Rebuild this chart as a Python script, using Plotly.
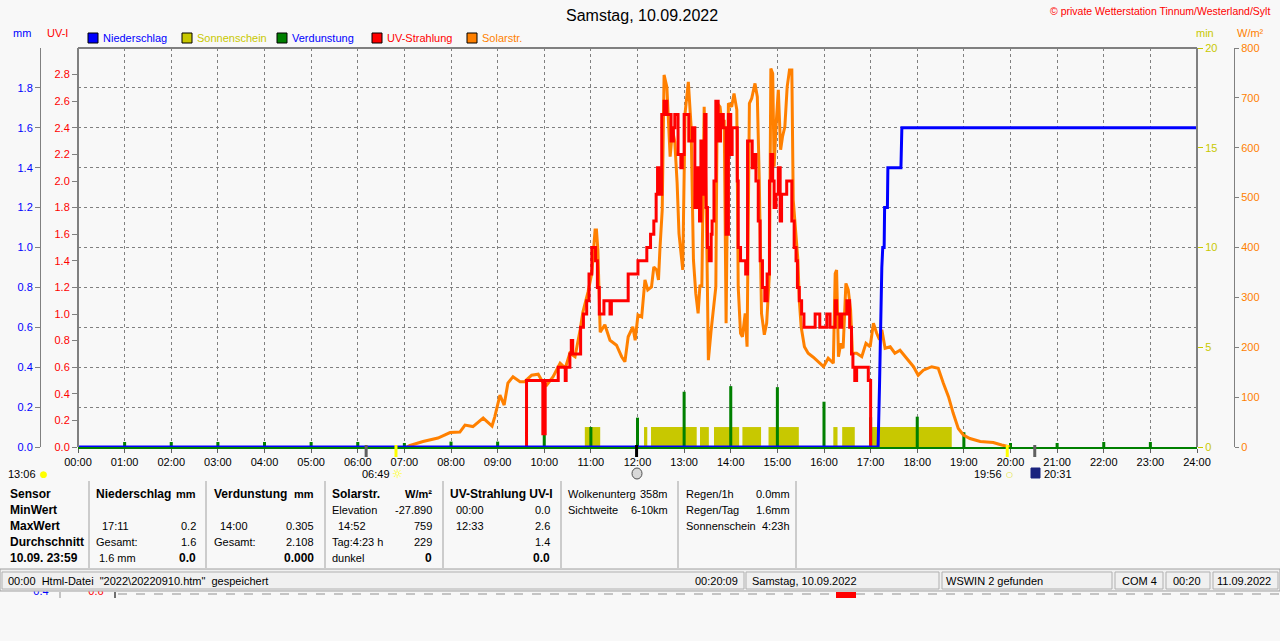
import plotly.graph_objects as go

W, H = 1280, 641
BG = "#f8f8f8"
GRID = "#808080"
FONT = "Liberation Sans, Arial, sans-serif"


def fx(px):
    return px / W


def fy(py):
    return 1 - py / H


# ---------------- data ----------------
hours = list(range(25))
hour_labels = ["%02d:00" % h for h in hours]

mm_ticks = [0.0, 0.2, 0.4, 0.6, 0.8, 1.0, 1.2, 1.4, 1.6, 1.8]
uv_ticks = [0.0, 0.2, 0.4, 0.6, 0.8, 1.0, 1.2, 1.4, 1.6, 1.8, 2.0, 2.2, 2.4, 2.6, 2.8]
min_ticks = [0, 5, 10, 15, 20]
min_grid = [2, 4, 6, 8, 10, 12, 14, 16, 18]
wm2_ticks = [0, 100, 200, 300, 400, 500, 600, 700, 800]

# Sonnenschein (min), intervals
sun_start = [10.87, 12.14, 12.29, 13.34, 13.64, 14.25, 14.81, 16.20, 16.39, 17.02]
sun_end = [11.20, 12.21, 13.27, 13.53, 14.18, 14.65, 15.46, 16.29, 16.66, 18.74]
sun_min = [1.0, 1.0, 1.0, 1.0, 1.0, 1.0, 1.0, 1.0, 1.0, 1.0]

# Verdunstung (mm) per hour
evap_time = [1, 2, 3, 4, 5, 6, 7, 8, 9, 10, 11, 12, 13, 14, 15, 16, 17, 18, 19, 20, 21, 22, 23]
evap_mm = [0.025, 0.025, 0.025, 0.025, 0.025, 0.025, 0.02, 0.027, 0.027, 0.077, 0.10, 0.147,
           0.277, 0.305, 0.30, 0.227, 0.149, 0.152, 0.074, 0.02, 0.02, 0.025, 0.025]

# Niederschlag (mm), cumulative
rain_time = [0.00, 17.16, 17.19, 17.22, 17.24, 17.26, 17.29, 17.30, 17.36, 17.37, 17.65, 17.67, 24.00]
rain_mm = [0.0, 0.0, 0.3, 0.7, 0.9, 1.0, 1.0, 1.2, 1.2, 1.4, 1.4, 1.6, 1.6]

# Solarstrahlung (W/m²)
solar_time = [7.05, 7.12, 7.40, 7.72, 7.98, 8.19, 8.30, 8.47, 8.69, 8.88, 8.94, 9.05, 9.14, 9.22,
              9.33, 9.48, 9.58, 9.73, 9.87, 9.98, 10.05, 10.19, 10.34, 10.45, 10.55, 10.66, 10.77,
              10.83, 10.94, 11.02, 11.09, 11.12, 11.15, 11.20, 11.30, 11.41, 11.55, 11.66, 11.73,
              11.80, 11.90, 11.95, 12.01, 12.09, 12.16, 12.22, 12.30, 12.35, 12.41, 12.45, 12.48,
              12.53, 12.57, 12.63, 12.66, 12.70, 12.75, 12.80, 12.85, 12.89, 12.97, 13.02, 13.09,
              13.15, 13.20, 13.25, 13.30, 13.34, 13.38, 13.43, 13.48, 13.52, 13.58, 13.63, 13.68,
              13.71, 13.77, 13.82, 13.86, 13.90, 13.95, 14.02, 14.07, 14.13, 14.16, 14.21, 14.25,
              14.31, 14.35, 14.40, 14.45, 14.52, 14.57, 14.61, 14.66, 14.72, 14.77, 14.83, 14.86,
              14.90, 14.93, 14.97, 15.02, 15.07, 15.11, 15.16, 15.21, 15.26, 15.31, 15.34, 15.39,
              15.44, 15.47, 15.51, 15.58, 15.66, 15.77, 15.99, 16.09, 16.20, 16.24, 16.27, 16.31,
              16.36, 16.41, 16.47, 16.52, 16.57, 16.61, 16.70, 16.81, 16.90, 16.99, 17.06, 17.13,
              17.19, 17.24, 17.31, 17.42, 17.52, 17.63, 17.77, 17.92, 18.02, 18.13, 18.31, 18.45,
              18.56, 18.67, 18.77, 18.88, 18.99, 19.13, 19.35, 19.63, 19.81, 19.99]
solar_wm2 = [0, 3, 11, 18, 29, 30, 44, 41, 58, 42, 61, 104, 84, 128,
             141, 131, 131, 144, 146, 128, 124, 141, 168, 158, 188, 181, 235,
             271, 311, 349, 435, 435, 395, 230, 245, 214, 204, 181, 171,
             221, 241, 214, 265, 261, 335, 315, 321, 361, 355, 335, 395,
             475, 746, 722, 662, 582, 636, 612, 529, 428, 355, 669, 732,
             642, 375, 308, 268, 325, 321, 682, 455, 174, 235, 281, 321,
             689, 682, 642, 656, 248, 689, 682, 709, 676, 321, 228, 221,
             268, 201, 689, 699, 729, 702, 542, 268, 225, 248, 348, 759,
             749, 562, 642, 716, 596, 622, 642, 722, 756, 756, 495, 442,
             375, 295, 241, 201, 188, 180, 161, 178, 168, 348, 355, 181,
             208, 198, 328, 315, 275, 188, 188, 181, 208, 201, 248, 228,
             215, 235, 198, 201, 188, 194, 178, 161, 144, 154, 161, 158,
             128, 101, 68, 37, 24, 17, 11, 9, 4, 0]

# UV-Strahlung (UV-I)
uv_time = [9.59, 9.62, 9.94, 9.97, 10.02, 10.27, 10.30, 10.43, 10.45, 10.47, 10.53, 10.55, 10.58,
           10.61, 10.75, 10.78, 10.84, 10.91, 10.96, 11.02, 11.06, 11.10, 11.14, 11.18, 11.25,
           11.28, 11.38, 11.41, 11.44, 11.77, 11.80, 11.98, 12.01, 12.16, 12.20, 12.28, 12.35,
           12.40, 12.43, 12.48, 12.52, 12.57, 12.63, 12.68, 12.72, 12.77, 12.80, 12.85, 12.87,
           12.93, 12.96, 13.00, 13.05, 13.10, 13.15, 13.18, 13.23, 13.28, 13.33, 13.36, 13.40,
           13.44, 13.47, 13.50, 13.54, 13.58, 13.60, 13.64, 13.68, 13.73, 13.78, 13.84, 13.90,
           13.95, 14.00, 14.03, 14.09, 14.14, 14.16, 14.21, 14.28, 14.32, 14.36, 14.41, 14.46,
           14.50, 14.54, 14.59, 14.63, 14.68, 14.73, 14.78, 14.83, 14.86, 14.90, 14.93, 14.97,
           15.02, 15.06, 15.09, 15.16, 15.20, 15.27, 15.31, 15.36, 15.40, 15.43, 15.47, 15.52,
           15.57, 15.77, 15.81, 15.88, 15.91, 16.02, 16.06, 16.11, 16.13, 16.20, 16.24, 16.27,
           16.31, 16.34, 16.38, 16.45, 16.49, 16.52, 16.55, 16.59, 16.62, 16.66, 16.70, 16.91,
           16.95, 16.99, 17.00]
uv_index = [0.0, 0.5, 0.5, 0.1, 0.5, 0.5, 0.6, 0.6, 0.5, 0.6, 0.6, 0.7, 0.8,
            0.7, 0.7, 0.9, 1.0, 1.1, 1.3, 1.5, 1.5, 1.4, 1.2, 1.0, 1.0,
            1.1, 1.1, 1.0, 1.1, 1.1, 1.3, 1.3, 1.4, 1.4, 1.5, 1.6, 1.7,
            1.9, 2.1, 1.9, 2.5, 2.6, 2.5, 2.5, 2.3, 2.4, 2.5, 2.5, 2.2,
            2.1, 2.2, 2.5, 2.5, 2.3, 2.3, 2.4, 1.8, 2.1, 1.7, 2.3, 1.9,
            2.5, 1.8, 1.5, 1.4, 1.6, 1.7, 2.0, 2.6, 2.3, 2.5, 2.4, 1.6,
            2.5, 2.2, 2.4, 2.4, 2.0, 1.5, 1.4, 1.4, 1.3, 2.3, 2.3, 2.1,
            2.2, 2.0, 1.7, 1.4, 1.2, 1.1, 1.3, 2.0, 2.2, 2.0, 1.8, 1.9,
            2.1, 1.7, 1.9, 1.9, 2.0, 2.0, 1.7, 1.5, 1.4, 1.2, 1.1, 1.0,
            0.9, 0.9, 1.0, 1.0, 0.9, 0.9, 1.0, 1.0, 0.9, 0.9, 1.1, 1.0,
            1.0, 0.9, 1.0, 1.0, 1.1, 1.1, 0.9, 0.7, 0.6, 0.5, 0.6, 0.6,
            0.5, 0.5, 0.0]

sun_mid = [(a + b) / 2 for a, b in zip(sun_start, sun_end)]
sun_width = [b - a for a, b in zip(sun_start, sun_end)]

# ---------------- figure ----------------
fig = go.Figure()
fig.add_trace(go.Bar(x=sun_mid, y=sun_min, width=sun_width, marker=dict(color="#c8c800", line_width=0),
                     yaxis="y", name="Sonnenschein"))
fig.add_trace(go.Bar(x=evap_time, y=evap_mm, width=0.065, marker=dict(color="#008000", line_width=0),
                     yaxis="y2", name="Verdunstung"))
fig.add_trace(go.Scatter(x=solar_time, y=solar_wm2, mode="lines", line=dict(color="#ff8000", width=3),
                         yaxis="y3", name="Solarstr."))
fig.add_trace(go.Scatter(x=uv_time, y=uv_index, mode="lines", line=dict(color="#ff0000", width=3, shape="hv"),
                         yaxis="y4", name="UV-Strahlung"))
fig.add_trace(go.Scatter(x=rain_time, y=rain_mm, mode="lines", line=dict(color="#0000ff", width=3),
                         yaxis="y5", name="Niederschlag"))

# leftover labels of a second chart peeking out below the status bar (clipped by its own strip)
fig.add_trace(go.Scatter(x=[41, 96], y=[592, 592], mode="text", text=["0.4", "0.6"],
                         textfont=dict(family=FONT, size=11, color=["#0000ff", "#ff0000"]),
                         cliponaxis=True, xaxis="x2", yaxis="y6", hoverinfo="skip"))

tick_font = dict(family=FONT, size=11)
ydom = [fy(447), fy(48)]

fig.update_layout(
    width=W, height=H, margin=dict(l=0, r=0, t=0, b=0, autoexpand=False),
    paper_bgcolor=BG, plot_bgcolor=BG, showlegend=False, barmode="overlay",
    font=dict(family=FONT, size=11, color="black"),
    xaxis=dict(domain=[fx(78), fx(1197)], range=[0, 24], tickvals=hours, ticktext=hour_labels,
               showgrid=True, gridcolor=GRID, griddash="3px,3px", gridwidth=1, zeroline=False,
               showline=True, linecolor="#008000", linewidth=2, ticks="outside", ticklen=4,
               tickcolor="#606060", tickfont=dict(tick_font, color="black"), layer="below traces"),
    yaxis=dict(domain=ydom, range=[0, 20], side="right", anchor="x", tickvals=min_ticks,
               ticks="outside", ticklen=5, tickcolor="#c8c800", showgrid=False, zeroline=False,
               tickfont=dict(tick_font, color="#c8c800"),
               minor=dict(tickvals=min_grid, showgrid=True, gridcolor=GRID, griddash="3px,3px",
                          gridwidth=1, ticks="")),
    yaxis2=dict(overlaying="y", anchor="free", position=fx(40), side="left", range=[0, 2],
                tickvals=mm_ticks, ticktext=["%.1f" % v for v in mm_ticks], showline=True,
                linecolor="#808080", linewidth=1, ticks="outside", ticklen=5, tickcolor="#808080",
                showgrid=False, zeroline=False, tickfont=dict(tick_font, color="#0000ff")),
    yaxis3=dict(overlaying="y", anchor="free", position=fx(1234), side="right", range=[0, 800],
                tickvals=wm2_ticks, showline=True, linecolor="#808080", linewidth=1, ticks="outside",
                ticklen=4, tickcolor="#808080", showgrid=False, zeroline=False,
                tickfont=dict(tick_font, color="#ff8000")),
    yaxis4=dict(overlaying="y", anchor="x", side="left", range=[0, 3], tickvals=uv_ticks,
                ticktext=["%.1f" % v for v in uv_ticks], ticks="outside", ticklen=5,
                tickcolor="#808080", showgrid=False, zeroline=False,
                tickfont=dict(tick_font, color="#ff0000")),
    yaxis5=dict(overlaying="y", range=[0, 2], visible=False),
    xaxis2=dict(domain=[0, 1], range=[0, W], anchor="y6", visible=False),
    yaxis6=dict(domain=[fy(641), fy(591.5)], range=[641, 591.5], anchor="x2", visible=False),
)

shapes = []
ann = []


def text(px, py, s, color="black", size=11, anchor="left", bold=False, family=FONT):
    if bold:
        s = "<b>" + s + "</b>"
    ann.append(dict(x=fx(px), y=fy(py), xref="paper", yref="paper", text=s, showarrow=False,
                    xanchor=anchor, yanchor="middle", font=dict(family=family, size=size, color=color)))


def line(x0, y0, x1, y1, color="#a0a0a0", width=1, dash=None):
    shapes.append(dict(type="line", xref="paper", yref="paper", x0=fx(x0), y0=fy(y0), x1=fx(x1),
                       y1=fy(y1), line=dict(color=color, width=width, dash=dash)))


def rect(x0, y0, x1, y1, fill, color="#a0a0a0", width=1):
    shapes.append(dict(type="rect", xref="paper", yref="paper", x0=fx(x0), y0=fy(y0), x1=fx(x1),
                       y1=fy(y1), fillcolor=fill, line=dict(color=color, width=width), layer="below"))


# plot frame
for seg in [(78, 48, 1197, 48), (78, 48, 78, 447), (1197, 48, 1197, 447)]:
    line(*seg, color="#808080", width=2)

# title and header texts
text(642, 15, "Samstag, 10.09.2022", size=16, anchor="center")
text(1272, 11, "© private Wetterstation Tinnum/Westerland/Sylt", color="#ff0000", size=10.5, anchor="right")
text(22, 33, "mm", color="#0000ff", anchor="center")
text(57, 33, "UV-I", color="#ff0000", anchor="center")
text(1205, 33, "min", color="#c8c800", anchor="center")
text(1250, 33, "W/m²", color="#ff8000", anchor="center")

# legend
legend_items = [("Niederschlag", "#0000ff", "#0000ff", 88), ("Sonnenschein", "#c8c800", "#c8c800", 182),
                ("Verdunstung", "#008000", "#0000ff", 277), ("UV-Strahlung", "#ff0000", "#ff0000", 372),
                ("Solarstr.", "#ff8000", "#ff8000", 467)]
for name, box, col, bx in legend_items:
    shapes.append(dict(type="rect", xref="paper", yref="paper", x0=fx(bx), x1=fx(bx + 10),
                       y0=fy(43), y1=fy(33), fillcolor=box, line=dict(color="black", width=1)))
    text(bx + 13, 38, name, color=col)

# event markers below the time axis
events = [(6.18, "#606060"), (6.82, "#ffff00"), (11.98, "#000000"), (19.93, "#ffff00"), (20.52, "#606060")]
for t, c in events:
    shapes.append(dict(type="line", xref="x", yref="paper", x0=t, x1=t, y0=fy(445), y1=fy(457),
                       line=dict(color=c, width=3)))
text(38, 474, "13:06", anchor="right")
text(44, 474, "●", color="#ffff00", size=9, anchor="center", family="DejaVu Sans")
text(392, 474, "06:49", anchor="right")
text(397, 474, "☼", color="#ffff00", size=12, anchor="center", family="DejaVu Sans")
shapes.append(dict(type="circle", xref="paper", yref="paper", x0=fx(632), x1=fx(642), y0=fy(479), y1=fy(468),
                   fillcolor="#d8d8d8", line=dict(color="#505050", width=1)))
text(1004, 474, "19:56", anchor="right")
text(1009, 474, "○", color="#e0e000", size=8, anchor="center", family="DejaVu Sans")
rect(1031, 468, 1040, 478, "#1a237e", color="#1a237e")
text(1042, 474, "20:31")

# table
rows_y = [494, 510, 526, 542, 558]
for s, y in zip(["Sensor", "MinWert", "MaxWert", "Durchschnitt", "10.09. 23:59"], rows_y):
    text(8, y, s, bold=True, size=12)

cols = [
    (94, 198, ("Niederschlag", "mm"), [None, ("17:11", "0.2", 100), ("Gesamt:", "1.6", 94), ("1.6 mm", "0.0", 97)]),
    (212, 316, ("Verdunstung", "mm"), [None, ("14:00", "0.305", 218), ("Gesamt:", "2.108", 212), ("", "0.000", 212)]),
    (330, 434, ("Solarstr.", "W/m²"), [("Elevation", "-27.890", 330), ("14:52", "759", 336),
                                        ("Tag:4:23 h", "229", 330), ("dunkel", "0", 330)]),
    (448, 552, ("UV-Strahlung UV-I", ""), [("00:00", "0.0", 454), ("12:33", "2.6", 454), ("", "1.4", 448),
                                           ("", "0.0", 448)]),
]
for left, right, head, cells in cols:
    text(left, rows_y[0], head[0], bold=True, size=12)
    if head[1]:
        text(right, rows_y[0], head[1], bold=True, size=11, anchor="right")
    for i, cell in enumerate(cells):
        if cell is None:
            continue
        lab, val, lx = cell
        y = rows_y[i + 1]
        if lab:
            text(lx, y, lab)
        if i == 3:
            text(right, y, val, bold=True, size=12, anchor="right")
        else:
            text(right, y, val, anchor="right")

extra = [(566, 670, [("Wolkenunterg", "358m"), ("Sichtweite", "6-10km")]),
         (684, 792, [("Regen/1h", "0.0mm"), ("Regen/Tag", "1.6mm"), ("Sonnenschein", "4:23h")])]
for left, right, items in extra:
    for (lab, val), y in zip(items, rows_y):
        text(left, y, lab)
        text(right, y, val, anchor="right")

for x in [89, 206, 325, 443, 561, 678, 796]:
    line(x, 481, x, 568, color="#a0a0a0")

# status bar
rect(0, 569, 1280, 591, "#f0f0f0", color="#a0a0a0")
panels = [(2, 744), (746, 939), (942, 1112), (1115, 1163), (1166, 1210), (1213, 1278)]
for a, b in panels:
    rect(a, 572, b, 589, "#f0f0f0", color="#b0b0b0")
text(6, 581, "00:00\u00a0 Html-Datei\u00a0 \"2022\\20220910.htm\"\u00a0 gespeichert")
text(740, 581, "00:20:09", anchor="right")
text(750, 581, "Samstag, 10.09.2022")
text(944, 581, "WSWIN 2 gefunden")
text(1120, 581, "COM 4")
text(1187, 581, "00:20", anchor="center")
text(1273, 581, "11.09.2022", anchor="right")

# remnant of an underlying chart below the status bar
line(118, 594, 1280, 594, color="#909090", dash="dash")
line(60, 592, 60, 598, color="#909090")
line(115, 592, 115, 598, color="#707070", width=2)
shapes.append(dict(type="rect", xref="paper", yref="paper", x0=fx(836), x1=fx(856), y0=fy(598), y1=fy(592),
                   fillcolor="#ff0000", line=dict(width=0)))

fig.update_layout(shapes=shapes, annotations=ann)

fig.write_html("out.html", config={"displayModeBar": False},
               post_script="document.body.style.margin='0';")
